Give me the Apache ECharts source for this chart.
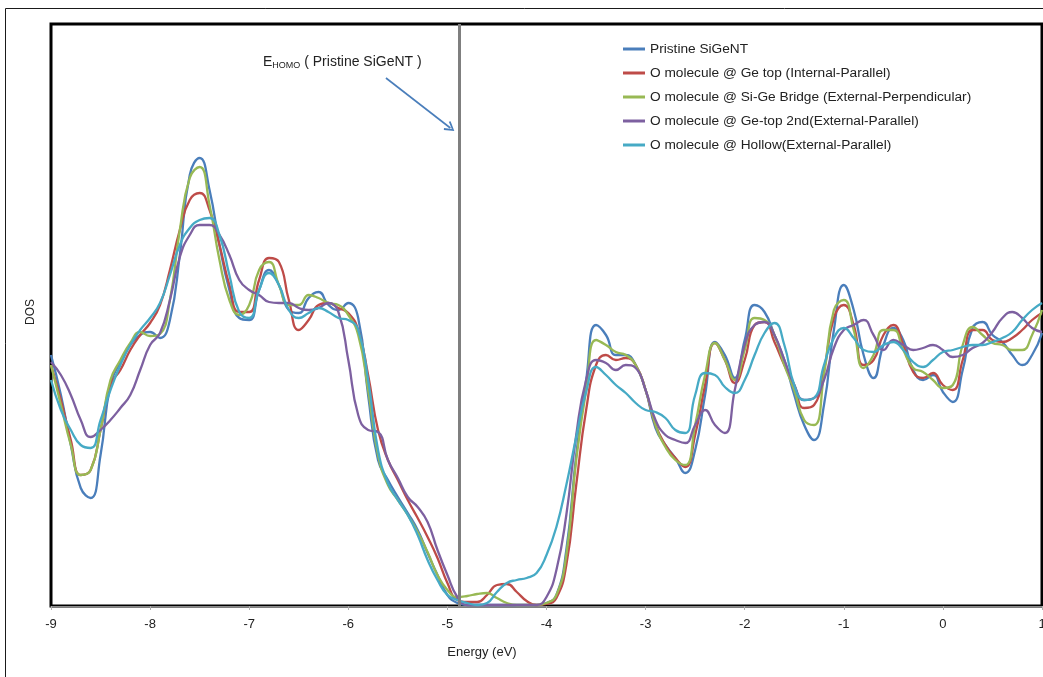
<!DOCTYPE html>
<html>
<head>
<meta charset="utf-8">
<title>DOS of SiGeNT with adsorbed O molecule</title>
<script src="https://cdn.jsdelivr.net/npm/echarts@6/dist/echarts.min.js"></script>
<style>
  html, body { margin: 0; padding: 0; background: #fff; }
  #chart { width: 1043px; height: 677px; }
</style>
</head>
<body>
<div id="chart"></div>
<script>
// Energy grid (eV), sampled every 0.1 eV from -9 to 1
const energy = [];
for (let i = 0; i <= 100; i++) energy.push(Math.round((-9 + i * 0.1) * 10) / 10);

const xTicks = [-9, -8, -7, -6, -5, -4, -3, -2, -1, 0, 1];
const eHomo = -4.88;

const seriesNames = [
  'Pristine SiGeNT',
  'O molecule @ Ge top (Internal-Parallel)',
  'O molecule @ Si-Ge Bridge (External-Perpendicular)',
  'O molecule @ Ge-top 2nd(External-Parallel)',
  'O molecule @ Hollow(External-Parallel)'
];

// DOS (arb. units) on the energy grid
const dosPristine = [
  25.1, 21.1, 16.1, 11.8, 10.8, 15.1, 22.1, 24.4, 26.1, 27.1,
  27.4, 26.8, 28.6, 35.1, 43.1, 44.8, 41.6, 36.1, 31.6, 28.8,
  28.6, 31.6, 33.6, 32.1, 29.6, 29.3, 30.8, 31.4, 30.1, 29.6,
  30.3, 28.8, 21.1, 14.6, 12.6, 10.9, 9.3, 7.6, 5.3, 3.1,
  1.1, 0.3, 0.1, 0.1, 0.1, 0.1, 0.1, 0.1, 0.1, 0.1,
  0.3, 1.1, 5.6, 15.1, 22.6, 28.1, 27.1, 25.1, 25.1, 24.1,
  21.6, 17.8, 16.1, 14.8, 13.3, 15.6, 21.1, 26.4, 25.1, 22.8,
  26.6, 30.1, 29.4, 27.1, 24.6, 21.1, 18.1, 16.6, 20.1, 27.6,
  32.1, 29.6, 25.1, 22.8, 26.1, 27.8, 26.6, 23.6, 22.6, 23.1,
  21.4, 20.4, 23.6, 27.8, 28.4, 27.1, 26.4, 25.1, 24.1, 25.1,
  27.3
];
const dosGeTop = [
  24.1, 20.6, 16.6, 13.1, 13.6, 17.6, 22.1, 23.6, 25.6, 27.1,
  28.3, 30.1, 33.6, 37.6, 40.6, 41.3, 39.6, 36.1, 32.1, 29.4,
  29.4, 32.6, 34.8, 34.4, 30.6, 27.6, 28.6, 30.1, 30.3, 29.8,
  29.3, 27.6, 23.1, 17.6, 14.6, 12.6, 10.6, 8.8, 6.9, 4.8,
  2.3, 0.6, 0.4, 0.4, 1.1, 2.1, 2.2, 1.4, 0.5, 0.1,
  0.2, 0.8, 4.1, 12.1, 19.6, 24.1, 25.1, 24.6, 24.8, 24.1,
  21.6, 18.1, 16.1, 14.8, 13.9, 17.1, 22.1, 26.3, 24.6, 22.3,
  24.6, 28.1, 28.4, 26.4, 24.1, 22.1, 19.8, 20.1, 23.6, 28.8,
  30.1, 28.1, 24.1, 24.6, 27.1, 28.1, 26.1, 23.4, 22.8, 23.3,
  22.1, 21.6, 24.6, 27.6, 27.6, 26.6, 26.4, 26.8, 27.6, 28.6,
  29.3
];
const dosBridge = [
  24.1, 20.1, 16.1, 13.1, 13.6, 17.6, 22.6, 24.6, 26.3, 27.4,
  27.0, 27.2, 30.6, 37.6, 42.8, 43.9, 40.1, 34.6, 30.6, 29.1,
  30.1, 33.6, 34.4, 32.1, 30.1, 30.1, 31.1, 30.8, 30.3, 30.1,
  29.1, 27.1, 21.6, 15.1, 12.1, 10.6, 9.1, 7.4, 5.4, 3.1,
  1.6, 0.9, 1.0, 1.2, 1.3, 0.8, 0.3, 0.1, 0.1, 0.1,
  0.3, 1.1, 5.1, 14.6, 21.6, 26.6, 26.1, 25.4, 25.1, 24.1,
  21.6, 18.1, 15.9, 14.6, 14.1, 18.1, 23.1, 26.3, 24.6, 22.6,
  25.6, 28.8, 28.6, 27.1, 24.1, 21.6, 18.6, 18.1, 23.1, 29.6,
  30.6, 27.6, 23.8, 25.1, 27.6, 27.6, 25.6, 23.8, 23.4, 22.6,
  21.8, 22.1, 26.1, 27.9, 27.1, 26.3, 26.1, 25.6, 25.6, 27.1,
  29.6
];
const dosGeTop2 = [
  24.4, 23.1, 21.1, 18.6, 16.9, 17.6, 18.6, 19.8, 21.1, 23.6,
  26.1, 27.3, 30.6, 34.9, 37.1, 38.1, 38.1, 37.1, 35.1, 32.6,
  31.6, 31.1, 30.4, 30.3, 30.3, 29.8, 29.6, 29.8, 30.3, 29.4,
  24.6, 19.1, 17.6, 17.4, 14.6, 12.8, 10.9, 9.9, 8.4, 5.6,
  3.1, 0.9, 0.1, 0.1, 0.1, 0.1, 0.1, 0.1, 0.1, 0.1,
  0.9, 3.6, 9.1, 17.1, 22.6, 24.6, 24.3, 23.6, 24.1, 23.8,
  21.6, 18.6, 17.1, 16.6, 16.3, 18.1, 19.6, 18.1, 17.3, 21.6,
  26.1, 28.1, 28.4, 27.1, 24.6, 22.1, 20.6, 20.8, 22.6, 25.8,
  27.6, 28.1, 28.6, 27.1, 25.6, 26.6, 26.1, 25.6, 25.8, 26.1,
  25.6, 24.9, 25.1, 25.8, 26.3, 27.4, 28.8, 29.4, 28.8, 27.8,
  27.4
];
const dosHollow = [
  22.6, 19.6, 17.6, 16.1, 15.8, 18.6, 21.6, 24.1, 26.1, 27.6,
  28.8, 30.3, 33.1, 36.1, 37.8, 38.6, 38.8, 37.1, 33.1, 29.4,
  28.8, 31.6, 33.3, 32.1, 29.6, 28.8, 29.3, 29.8, 29.4, 28.8,
  28.6, 27.6, 22.6, 15.6, 12.3, 10.6, 9.1, 7.1, 4.6, 2.6,
  1.1, 0.6, 0.3, 0.1, 0.3, 1.4, 2.3, 2.6, 2.8, 3.3,
  5.1, 7.9, 12.1, 16.9, 21.4, 23.9, 23.1, 22.1, 21.3, 20.3,
  19.6, 19.4, 18.8, 17.6, 17.3, 21.1, 23.3, 23.1, 21.9, 21.3,
  22.6, 25.1, 27.3, 28.3, 26.1, 22.1, 20.6, 20.8, 24.1, 26.8,
  27.8, 26.8, 25.6, 25.4, 26.1, 26.4, 25.6, 24.4, 23.9, 24.6,
  25.4, 25.6, 25.9, 26.1, 26.1, 26.4, 26.8, 27.4, 28.6, 29.6,
  30.3
];

const seriesValues = [dosPristine, dosGeTop, dosBridge, dosGeTop2, dosHollow];
const seriesColors = ['#4a7ebb', '#be4b48', '#98b954', '#7d60a0', '#46aac5'];

// Arrow pointing at the HOMO line: [energy, DOS] end points
const arrowFrom = [-5.62, 52.8];
const arrowTo = [-4.97, 47.8];

// open chevron arrow head (tip at top of the path box)
const chevron = 'path://M5,0 L10,9 L8.6,10 L5,3.2 L1.4,10 L0,9 Z';

const FONT = '"Liberation Sans", Arial, sans-serif';

const series = seriesValues.map((vals, k) => {
  const s = {
    name: seriesNames[k],
    type: 'line',
    data: energy.map((e, i) => [e, vals[i]]),
    smooth: 0.5,
    showSymbol: false,
    symbol: 'none',
    lineStyle: { color: seriesColors[k], width: 2.3 },
    itemStyle: { color: seriesColors[k] },
    animation: false
  };
  if (k === 0) {
    s.markLine = {
      silent: true,
      symbol: ['none', 'none'],
      label: { show: false },
      lineStyle: { color: '#7f7f7f', width: 3, type: 'solid' },
      data: [{ xAxis: eHomo }],
      animation: false
    };
  }
  if (k === 1) {
    s.markLine = {
      silent: true,
      symbol: ['none', chevron],
      symbolSize: [11, 10],
      symbolOffset: [0, 0],
      label: { show: false },
      itemStyle: { color: '#4a7ebb' },
      lineStyle: { color: '#4a7ebb', width: 1.6, type: 'solid' },
      data: [[{ coord: arrowFrom }, { coord: arrowTo }]],
      animation: false
    };
  }
  return s;
});

const chart = echarts.init(document.getElementById('chart'), null, { renderer: 'canvas' });
chart.setOption({
  backgroundColor: '#ffffff',
  animation: false,
  textStyle: { fontFamily: FONT },
  grid: {
    left: 51, right: 1, top: 24, bottom: 71,
    outerBoundsMode: 'none',
    containLabel: false,
    show: true, borderColor: '#000000', borderWidth: 3,
    backgroundColor: 'transparent'
  },
  xAxis: {
    type: 'value',
    min: xTicks[0], max: xTicks[xTicks.length - 1], interval: 1,
    axisLine: { show: true, onZero: false, lineStyle: { color: '#8c8c8c', width: 1 } },
    axisTick: { show: true, length: 4, inside: false, lineStyle: { color: '#b0b0b0' } },
    axisLabel: { color: '#222', fontSize: 13, fontFamily: FONT, margin: 12 },
    splitLine: { show: false }
  },
  yAxis: {
    type: 'value', min: 0, max: 58.2,
    axisLine: { show: false }, axisTick: { show: false },
    axisLabel: { show: false }, splitLine: { show: false }
  },
  legend: {
    orient: 'vertical',
    left: 618, top: 37,
    itemWidth: 22, itemHeight: 3, itemGap: 10,
    icon: 'rect',
    textStyle: { color: '#222', fontSize: 13.7, fontFamily: FONT, lineHeight: 14 },
    data: seriesNames
  },
  graphic: [
    {
      type: 'rect', silent: true, z: -1,
      shape: { x: 5.5, y: 8.5, width: 1100, height: 700 },
      style: { fill: 'none', stroke: '#1a1a1a', lineWidth: 1 }
    },
    {
      type: 'text', silent: true,
      x: 482, y: 652,
      style: {
        text: 'Energy (eV)', x: 0, y: 0,
        align: 'center', verticalAlign: 'middle',
        fill: '#222', font: '13px ' + FONT
      }
    },
    {
      type: 'text', silent: true,
      x: 31, y: 312, rotation: Math.PI / 2,
      style: {
        text: 'DOS', x: 0, y: 0,
        align: 'center', verticalAlign: 'middle',
        fill: '#222', font: '12px ' + FONT
      }
    },
    {
      type: 'text', silent: true,
      x: 263, y: 62,
      style: {
        text: '{e|E}{s|HOMO}{t| ( Pristine SiGeNT )}',
        align: 'left', verticalAlign: 'middle',
        rich: {
          e: { fontSize: 14, fontFamily: FONT, fill: '#222', lineHeight: 16, verticalAlign: 'middle' },
          s: { fontSize: 9, fontFamily: FONT, fill: '#222', lineHeight: 16, padding: [7, 0, 0, 0], verticalAlign: 'middle' },
          t: { fontSize: 14, fontFamily: FONT, fill: '#222', lineHeight: 16, verticalAlign: 'middle' }
        }
      }
    }
  ],
  series: series
});
</script>
</body>
</html>
